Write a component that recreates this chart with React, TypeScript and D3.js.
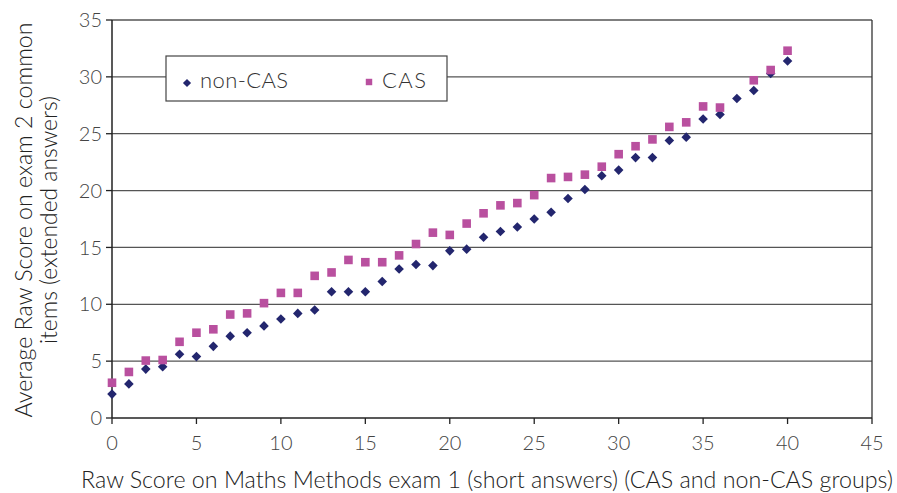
import React from "react";
import { scaleLinear, range, symbol, symbolSquare } from "d3";

const scores = range(0, 41);
const nonCas = [
  2.1, 3.0, 4.3, 4.5, 5.6, 5.4, 6.3, 7.2, 7.5, 8.1, 8.7, 9.2, 9.5, 11.1, 11.1,
  11.1, 12.0, 13.1, 13.5, 13.4, 14.7, 14.85, 15.9, 16.4, 16.8, 17.5, 18.1, 19.3,
  20.1, 21.3, 21.8, 22.9, 22.9, 24.4, 24.7, 26.3, 26.7, 28.1, 28.8, 30.3, 31.4,
];
// no CAS value at score 37
const cas = [
  3.1, 4.05, 5.05, 5.1, 6.7, 7.5, 7.8, 9.1, 9.2, 10.1, 11.0, 11.0, 12.5, 12.8,
  13.9, 13.7, 13.7, 14.3, 15.3, 16.3, 16.1, 17.1, 18.0, 18.7, 18.9, 19.6, 21.1,
  21.2, 21.4, 22.1, 23.2, 23.9, 24.5, 25.6, 26.0, 27.4, 27.3, null, 29.7, 30.6,
  32.3,
];
const xTicks = [0, 5, 10, 15, 20, 25, 30, 35, 40, 45];
const yTicks = [0, 5, 10, 15, 20, 25, 30, 35];

const W = 897;
const H = 493;
const left = 112;
const right = 872;
const top = 20;
const bottom = 418;

const navy = "#23266e";
const pink = "#b9509f";
const font = "Lato, 'Open Sans', sans-serif";

export default function App() {
  const x = scaleLinear().domain([0, 45]).range([left, right]);
  const y = scaleLinear().domain([0, 35]).range([bottom, top]);

  // diamond = square turned 45 degrees
  const diamond = symbol().type(symbolSquare).size(46)();
  const square = symbol().type(symbolSquare).size(74)();

  const legend = { x0: 166, y0: 56, x1: 447, y1: 101 };

  return (
    <svg
      width={W}
      height={H}
      viewBox={`0 0 ${W} ${H}`}
      style={{ position: "absolute", left: 0, top: 0, background: "#fff" }}
      fontFamily={font}
    >
      {yTicks.map((t) => (
        <g key={t}>
          {t > 0 && (
            <line x1={left} x2={right} y1={y(t)} y2={y(t)} stroke="#555" strokeWidth={1.3} />
          )}
          <line x1={left - 6} x2={left} y1={y(t)} y2={y(t)} stroke="#222" strokeWidth={1.3} />
          <text
            x={left - 10}
            y={y(t)}
            dy="0.36em"
            textAnchor="end"
            fontSize={20}
            fontWeight={300}
            fill="#444"
          >
            {t}
          </text>
        </g>
      ))}
      <line x1={right} x2={right} y1={top} y2={bottom} stroke="#333" strokeWidth={1.3} />
      <line x1={left} x2={left} y1={top} y2={bottom} stroke="#222" strokeWidth={1.5} />
      <line x1={left} x2={right} y1={bottom} y2={bottom} stroke="#222" strokeWidth={1.5} />
      {xTicks.map((t) => (
        <g key={t}>
          <line x1={x(t)} x2={x(t)} y1={bottom} y2={bottom + 6} stroke="#222" strokeWidth={1.3} />
          <text
            x={x(t)}
            y={bottom + 32}
            textAnchor="middle"
            fontSize={20}
            fontWeight={300}
            fill="#444"
          >
            {t}
          </text>
        </g>
      ))}

      {/* legend */}
      <rect
        x={legend.x0}
        y={legend.y0}
        width={legend.x1 - legend.x0}
        height={legend.y1 - legend.y0}
        fill="#fff"
        stroke="#444"
        strokeWidth={1.2}
      />
      <path d={diamond} transform="translate(187,83) rotate(45) scale(0.85)" fill={navy} />
      <text x={200} y={88} fontSize={22} fontWeight={300} fill="#333" textLength={88}>
        non-CAS
      </text>
      <path d={square} transform="translate(369,82) scale(0.75)" fill={pink} />
      <text x={382} y={88} fontSize={22} fontWeight={300} fill="#333" textLength={44}>
        CAS
      </text>

      {scores.map((s, i) => (
        <path
          key={"n" + s}
          d={diamond}
          transform={`translate(${x(s)},${y(nonCas[i])}) rotate(45)`}
          fill={navy}
        />
      ))}
      {scores.map((s, i) =>
        cas[i] == null ? null : (
          <path
            key={"c" + s}
            d={square}
            transform={`translate(${x(s)},${y(cas[i] as number)})`}
            fill={pink}
          />
        )
      )}

      <text
        x={487}
        y={488}
        textAnchor="middle"
        fontSize={23}
        fontWeight={300}
        fill="#222"
        textLength={812}
        lengthAdjust="spacingAndGlyphs"
      >
        Raw Score on Maths Methods exam 1 (short answers) (CAS and non-CAS groups)
      </text>
      <text
        transform={`translate(32,220) rotate(-90)`}
        textAnchor="middle"
        fontSize={23}
        fontWeight={300}
        fill="#222"
        textLength={395}
        lengthAdjust="spacingAndGlyphs"
      >
        Average Raw Score on exam 2 common
      </text>
      <text
        transform={`translate(57,220) rotate(-90)`}
        textAnchor="middle"
        fontSize={23}
        fontWeight={300}
        fill="#222"
        textLength={248}
        lengthAdjust="spacingAndGlyphs"
      >
        items (extended answers)
      </text>
    </svg>
  );
}
